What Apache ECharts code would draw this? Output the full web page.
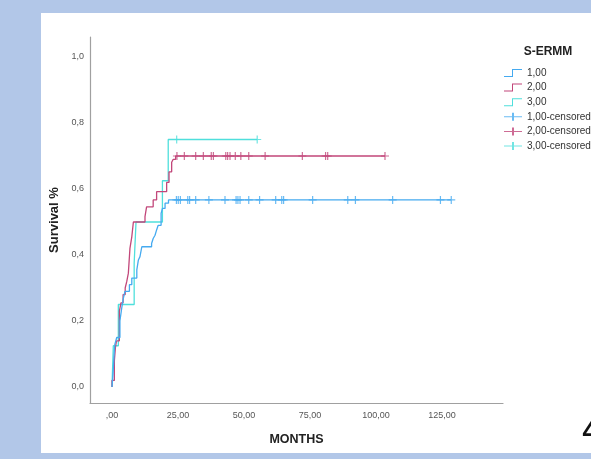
<!DOCTYPE html>
<html>
<head>
<meta charset="utf-8">
<script src="https://cdn.jsdelivr.net/npm/echarts@6/dist/echarts.min.js"></script>
<style>
html,body{margin:0;padding:0;background:#b2c7e8;}
#c{width:591px;height:459px;}
</style>
</head>
<body>
<div id="c"></div>
<script>
// ---- data ----
const groupNames = ['1,00', '2,00', '3,00'];
const censorNames = ['1,00-censored', '2,00-censored', '3,00-censored'];
const xTickValues = [0, 25, 50, 75, 100, 125];
const yTickValues = [0, 0.2, 0.4, 0.6, 0.8, 1.0];

// group 1,00 (blue)
const timesG1 = [0, 0.4, 0.8, 1.1, 1.8, 3.0, 3.7, 4.2, 4.9, 6.6, 7.5, 9.4, 10.0, 10.6, 11.3, 15.0, 15.6, 16.3, 16.9, 17.5, 18.6, 19.1, 20.1, 21.4];
const survG1 = [0, 0.04, 0.10, 0.13, 0.15, 0.20, 0.24, 0.265, 0.29, 0.31, 0.33, 0.355, 0.385, 0.395, 0.425, 0.435, 0.45, 0.46, 0.476, 0.49, 0.526, 0.541, 0.557, 0.567];
const censorG1 = [24.4, 25.1, 25.9, 28.7, 29.4, 31.7, 36.7, 42.8, 47.0, 47.7, 48.5, 51.8, 55.9, 62.0, 64.3, 65.0, 76.0, 89.3, 92.2, 106.3, 124.4, 128.5];

// group 2,00 (red)
const timesG2 = [0, 0, 0.9, 1.3, 1.7, 2.8, 3.4, 4.2, 5.0, 5.6, 6.2, 6.8, 7.5, 8.1, 12.5, 13.1, 15.6, 16.9, 20.7, 21.6, 22.6, 23.2, 24.1];
const survG2 = [0, 0.02, 0.08, 0.12, 0.14, 0.23, 0.255, 0.28, 0.30, 0.32, 0.345, 0.42, 0.455, 0.50, 0.516, 0.546, 0.567, 0.592, 0.62, 0.652, 0.681, 0.69, 0.70];
const censorG2 = [24.6, 27.4, 31.7, 34.6, 37.6, 38.4, 43.1, 43.8, 44.7, 46.7, 48.8, 51.8, 58.0, 72.1, 80.9, 81.7, 103.4];

// group 3,00 (cyan)
const timesG3 = [0, 0.5, 2.4, 8.4, 9.1, 19.1, 21.3];
const survG3 = [0, 0.125, 0.25, 0.375, 0.5, 0.625, 0.75];
const censorG3 = [24.5, 55.0];

// ---- styling ----
const colors = ['#45aaf0', '#c2477a', '#4fdfdc'];
const FONT = '"Liberation Sans", Arial, sans-serif';

function lineData(times, surv, censors) {
  const d = times.map((t, i) => [t, surv[i]]);
  const last = Math.max(...censors);
  d.push([last, surv[surv.length - 1]]);
  return d;
}
function valueAt(times, surv, t) {
  let v = surv[0];
  for (let i = 0; i < times.length; i++) if (times[i] <= t) v = surv[i];
  return v;
}
function censorData(times, surv, censors) {
  return censors.map(t => [t, valueAt(times, surv, t)]);
}

const T = [timesG1, timesG2, timesG3];
const S = [survG1, survG2, survG3];
const C = [censorG1, censorG2, censorG3];

const plusSym = 'path://M-0.6,-4H0.6V-0.6H4V0.6H0.6V4H-0.6V0.6H-4V-0.6H-0.6Z';
const stepIcon = 'path://M0,7H8V0H18V1H9V8H0Z';
const censIcon = 'path://M0,3.5H8V0H10V3.5H18V4.5H10V8H8V4.5H0Z';

const series = [];
for (let g = 0; g < 3; g++) {
  series.push({
    name: groupNames[g], type: 'line', step: 'end', symbol: 'none',
    data: lineData(T[g], S[g], C[g]),
    lineStyle: { width: 1.3, color: colors[g] },
    itemStyle: { color: colors[g] },
    z: 3 - g + 2, animation: false
  });
}
for (let g = 0; g < 3; g++) {
  series.push({
    name: censorNames[g], type: 'scatter', symbol: plusSym, symbolSize: [8, 8],
    data: censorData(T[g], S[g], C[g]),
    itemStyle: { color: colors[g] },
    z: 6, animation: false
  });
}

const chart = echarts.init(document.getElementById('c'), null, { renderer: 'canvas' });
chart.setOption({
  animation: false,
  backgroundColor: '#b2c7e8',
  textStyle: { fontFamily: FONT },
  grid: { left: 90, right: 88, top: 37, bottom: 56 },
  xAxis: {
    type: 'value', min: -8.33, max: 148.1,
    name: 'MONTHS', nameLocation: 'middle', nameGap: 30,
    nameTextStyle: { fontFamily: FONT, fontWeight: 'bold', fontSize: 12.5, color: '#222' },
    axisLine: { show: true, onZero: false, lineStyle: { color: '#a0a0a0', width: 1.2 } },
    axisTick: { show: false },
    splitLine: { show: false },
    axisLabel: {
      customValues: xTickValues, margin: 8, fontSize: 9, color: '#555', fontFamily: FONT,
      formatter: v => v === 0 ? ',00' : v.toFixed(2).replace('.', ',')
    }
  },
  yAxis: {
    type: 'value', min: -0.0485, max: 1.0606,
    name: 'Survival %', nameLocation: 'middle', nameGap: 29,
    nameTextStyle: { fontFamily: FONT, fontWeight: 'bold', fontSize: 13, color: '#222' },
    axisLine: { show: true, onZero: false, lineStyle: { color: '#a0a0a0', width: 1.2 } },
    axisTick: { show: false },
    splitLine: { show: false },
    axisLabel: {
      customValues: yTickValues, margin: 6, fontSize: 9, color: '#555', fontFamily: FONT,
      formatter: v => v.toFixed(1).replace('.', ',')
    }
  },
  legend: {
    orient: 'vertical', left: 504, top: 67, padding: 0,
    itemWidth: 18, itemHeight: 8, itemGap: 2.6, selectedMode: false,
    textStyle: { fontSize: 10, color: '#333', fontFamily: FONT, lineHeight: 12 },
    data: [
      { name: groupNames[0], icon: stepIcon },
      { name: groupNames[1], icon: stepIcon },
      { name: groupNames[2], icon: stepIcon },
      { name: censorNames[0], icon: censIcon },
      { name: censorNames[1], icon: censIcon },
      { name: censorNames[2], icon: censIcon }
    ]
  },
  graphic: [
    { type: 'rect', shape: { x: 41, y: 13, width: 560, height: 440 }, style: { fill: '#ffffff' }, z: -10, silent: true },
    { type: 'text', x: 548, y: 52, style: { text: 'S-ERMM', font: 'bold 12px ' + FONT, fill: '#222', align: 'center', verticalAlign: 'middle' } },
    { type: 'text', x: 582, y: 432, style: { text: '4', font: '38px ' + FONT, fill: '#111', align: 'left', verticalAlign: 'middle' } }
  ],
  series: series
});
</script>
</body>
</html>
